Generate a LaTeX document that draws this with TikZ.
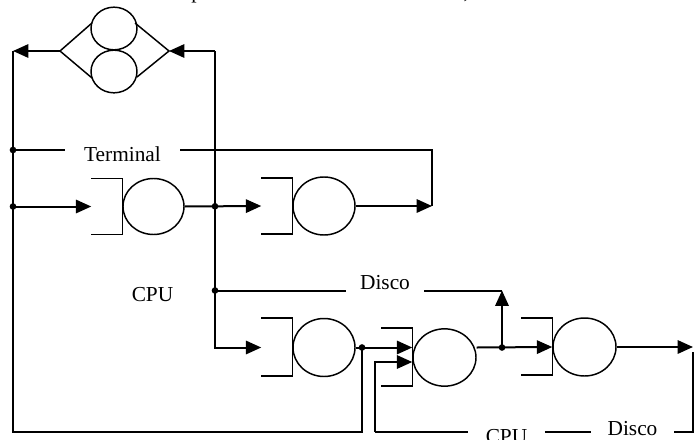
\documentclass[tikz,border=0pt]{standalone}
\usepackage{fontspec}
\setmainfont{Liberation Serif}
\usetikzlibrary{arrows.meta,shapes.geometric,calc}
\newcommand\qbrk[3]{%
  \draw[brk] ($(#1.west)+(-31,#2)$) -- ($(#1.west)+(0,#2)$) -- ($(#1.west)+(0,#3)$) -- ($(#1.west)+(-31,#3)$);
  \coordinate (#1in) at ($(#1.west)+(-31,0)$);}
\begin{document}
\begin{tikzpicture}[x=0.75pt,y=-0.75pt,
  conn/.style={line width=1.5pt},
  arr/.style={conn,-{Triangle[length=11.5pt,width=10pt]}},
  srv/.style={ellipse,draw,line width=1.1pt,inner sep=0pt,minimum width=46.5pt,minimum height=43pt},
  brk/.style={line width=1pt},
  jdot/.style={circle,fill,inner sep=0pt,minimum size=5pt},
  lbl/.style={font=\fontsize{16}{18}\selectfont,inner ysep=0pt}]
\useasboundingbox (0,0) rectangle (699,439);

% clipped title (only its lowest pixels are visible)
\node[lbl,anchor=base west,inner sep=0pt] (ttl) at (104,-1.5) {Modelo Operacional de Red con Terminal, CPU e Disco};

% double server (diamond)
\node[srv,minimum width=34.5pt,minimum height=32pt] (dtop) at (114,28.5) {};
\node[srv,minimum width=34.5pt,minimum height=32pt] (dbot) at (114,71.5) {};
\coordinate (dl) at (60,51);
\coordinate (dr) at (169,51);
\coordinate (dtl) at (92,23);
\coordinate (dbl) at (92,78);
\coordinate (dtr) at (135,23);
\coordinate (dbr) at (137,77);
\draw[line width=1.1pt] (dtl) -- (dl) -- (dbl);
\draw[line width=1.1pt] (dtr) -- (dr) -- (dbr);

% queues
\node[srv,minimum width=45.75pt,minimum height=42pt] (q1) at (153.5,206.5) {};
\node[srv,minimum width=46.5pt,minimum height=43.5pt] (q2) at (324,206) {};
\node[srv,minimum width=46.5pt,minimum height=43.5pt] (q3) at (324,347.5) {};
\node[srv,minimum width=47.25pt,minimum height=43pt] (q4) at (444.5,357.5) {};
\node[srv,minimum width=47.25pt,minimum height=43.5pt] (q5) at (584.5,347) {};
\qbrk{q1}{-28}{28}
\qbrk{q2}{-28}{28}
\qbrk{q3}{-29.5}{28.5}
\qbrk{q4}{-29.5}{28.5}
\qbrk{q5}{-29}{28}

% labels
\node[lbl,inner xsep=14.25pt] (term) at (122.5,154) {Terminal};
\node[lbl] (cpu1) at (152.5,295) {CPU};
\node[lbl,inner xsep=10.5pt] (dsk1) at (385,282.5) {Disco};
\node[lbl,inner xsep=13pt] (cpu2) at (506.5,436.5) {CPU};
\node[lbl,inner xsep=12.4pt] (dsk2) at (632.5,428.5) {Disco};

% junctions and corners
\coordinate (tl) at (13,51);
\coordinate (bl) at (13,432);
\node[jdot] (jt) at (13,150) {};
\node[jdot] (jr) at (13,206.5) {};
\coordinate (bm) at (362,432);
\node[jdot] (j3) at (362,347.5) {};
\coordinate (tr) at (215,51);
\node[jdot] (j1) at (215,206.3) {};
\node[jdot] (j2) at (215,290.5) {};
\coordinate (c3) at (215,347.5);
\coordinate (tk) at (432,150);
\coordinate (tk2) at (432,206);
\coordinate (dk) at (502,290.5);
\node[jdot] (j4) at (502,347.5) {};
\coordinate (lb) at (375,432);
\coordinate (lu) at (375,362);
\coordinate (re) at (693,347);
\coordinate (rv) at (693,352);
\coordinate (rb) at (693,432);

% connectors
\draw[arr] (dl) -- (tl);
\draw[conn] (tl) -- (bl) -- (bm) -- (j3.center);
\draw[arr] (tr) -- (dr);
\draw[arr] (tr) -- (c3) -- (q3in);
\draw[arr] (jr.center) -- (q1in);
\draw[arr] (q1.east) -- (q2in);
\draw[conn] (jt.center) -- (jt -| term.west);
\draw[conn] (jt -| term.east) -- (tk) -- (tk2);
\draw[arr] (q2.east) -- (tk2);
\draw[conn] (j2.center) -- (j2 -| dsk1.west);
\draw[conn] (j2 -| dsk1.east) -- (dk);
\draw[arr] (j4.center) -- (dk);
\draw[arr] (q3.east) -- (q4.west |- j3);
\draw[arr] (lb) -- (lu) -- (q4.west |- lu);
\draw[conn] (lb) -- (lb -| cpu2.west);
\draw[conn] (lb -| cpu2.east) -- (lb -| dsk2.west);
\draw[conn] (lb -| dsk2.east) -- (rb) -- (rv);
\draw[arr] (q4.east |- j4) -- (q5.west);
\draw[arr] (q5.east) -- (re);
\end{tikzpicture}
\end{document}
